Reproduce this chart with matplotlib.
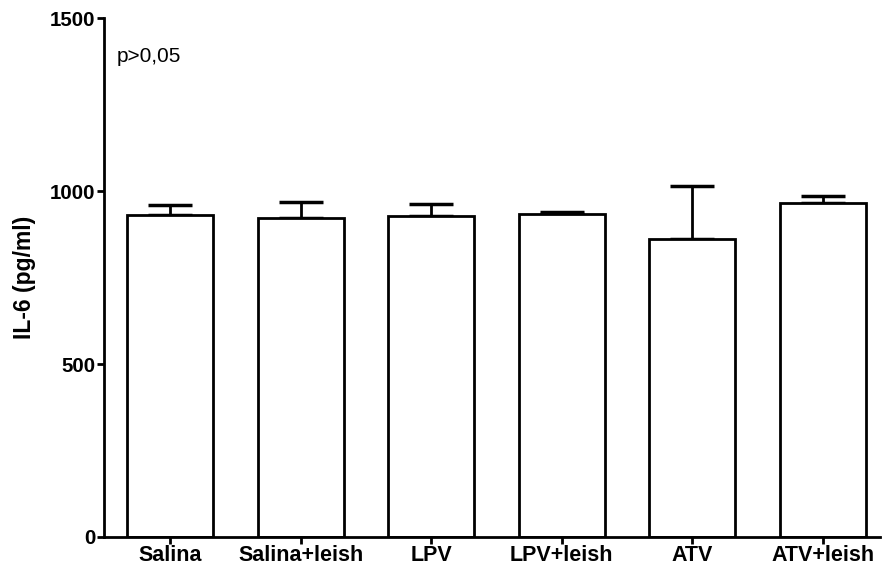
import matplotlib
matplotlib.use("Agg")
import matplotlib.pyplot as plt

categories = ["Salina", "Salina+leish", "LPV", "LPV+leish", "ATV", "ATV+leish"]
means = [930, 923, 928, 935, 861, 965]
errors = [29, 46, 34, 4, 154, 20]
yticks = [0, 500, 1000, 1500]

plt.rcParams['font.family'] = ['Liberation Sans', 'DejaVu Sans']

fig = plt.figure(figsize=(8.82, 5.74), dpi=100)
ax = fig.add_axes([0.118, 0.0645, 0.880, 0.904])

x = list(range(len(categories)))
ax.bar(x, means, width=0.66, color='white', edgecolor='black', linewidth=2.0, zorder=2)
ax.errorbar(x, means, yerr=[[0]*len(errors), errors], fmt='none', ecolor='black',
            elinewidth=2.0, capsize=15.8, capthick=2.5, zorder=1)

ax.set_xlim(-0.506, 5.44)
ax.set_ylim(0, 1500)
ax.set_yticks(yticks)
ax.set_yticklabels([str(v) for v in yticks], fontweight='bold', fontsize=14.8)
ax.set_xticks(x)
ax.set_xticklabels(categories, fontweight='bold', fontsize=15.5)
ax.set_ylabel("IL-6 (pg/ml)", fontweight='bold', fontsize=16.5, labelpad=10)

for s in ['top', 'right']:
    ax.spines[s].set_visible(False)
for s in ['left', 'bottom']:
    ax.spines[s].set_linewidth(2.0)
ax.tick_params(axis='both', width=2.0, length=5, pad=1)

ax.text(-0.41, 1390, "p>0,05", fontsize=15, va='center', ha='left')

fig.savefig("out.png", dpi=100)
